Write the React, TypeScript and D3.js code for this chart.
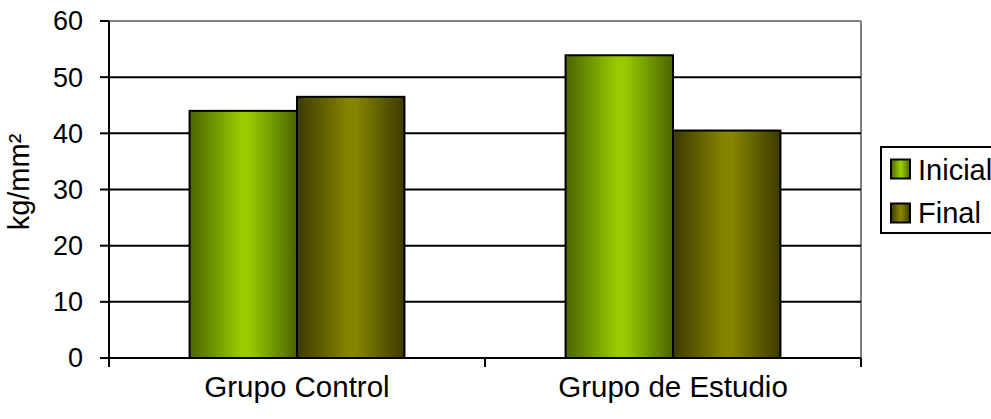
import React from "react";
import * as d3 from "d3";

const categories = ["Grupo Control", "Grupo de Estudio"];
const seriesNames = ["Inicial", "Final"];
const inicialValues = [44.0, 53.9];
const finalValues = [46.5, 40.5];
const yTicks = [0, 10, 20, 30, 40, 50, 60];
const yLabel = "kg/mm²";

const W = 991, H = 419;
const left = 109, right = 861, top = 21, bottom = 358;
const FONT = "Arial, 'Liberation Sans', sans-serif";
const FS = 27;

const colors = [
  { light: "#99cc00", dark: "#4a6400" },
  { light: "#858500", dark: "#3c3a00" },
];

export default function App() {
  const x = d3.scaleBand<string>().domain(categories).range([left, right]).paddingInner(0).paddingOuter(0);
  const y = d3.scaleLinear().domain([0, 60]).range([bottom, top]);
  const bw = x.bandwidth();
  const barW = bw / 3.5;
  const series = [inicialValues, finalValues];
  return (
    <svg width={W} height={H} style={{ display: "block", position: "absolute", left: 0, top: 0 }} fontFamily={FONT}>
      <defs>
        {colors.map((c, i) => (
          <linearGradient key={i} id={`g${i}`} x1="0" x2="1" y1="0" y2="0">
            <stop offset="0" stopColor={c.dark} />
            <stop offset="0.48" stopColor={c.light} />
            <stop offset="0.55" stopColor={c.light} />
            <stop offset="1" stopColor={c.dark} />
          </linearGradient>
        ))}
      </defs>
      <rect x={0} y={0} width={W} height={H} fill="#fff" />
      <line x1={left} x2={right} y1={top} y2={top} stroke="#808080" strokeWidth={2} />
      <line x1={right} x2={right} y1={top} y2={bottom} stroke="#808080" strokeWidth={2} />
      {yTicks.filter(t => t > 0 && t < 60).map(t => (
        <line key={t} x1={left} x2={right} y1={y(t)} y2={y(t)} stroke="#000" strokeWidth={2} />
      ))}
      {series.map((vals, si) =>
        categories.map((c, ci) => {
          const cx = (x(c) as number) + bw / 2;
          const x0 = cx - barW + si * barW;
          return (
            <rect key={`${si}-${ci}`} x={x0} y={y(vals[ci])} width={barW} height={bottom - y(vals[ci])}
              fill={`url(#g${si})`} stroke="#000" strokeWidth={2} />
          );
        })
      )}
      <line x1={left} x2={left} y1={top} y2={367} stroke="#000" strokeWidth={2} />
      <line x1={left - 9} x2={right} y1={bottom} y2={bottom} stroke="#000" strokeWidth={2} />
      {yTicks.map(t => (
        <g key={t}>
          <line x1={left - 9} x2={left} y1={y(t)} y2={y(t)} stroke="#000" strokeWidth={2} />
          <text x={83} y={y(t)} dy="0.35em" textAnchor="end" fontSize={FS} fill="#000">{t}</text>
        </g>
      ))}
      {[...categories.map(c => x(c) as number), right].map((v, i) => (
        <line key={i} x1={v} x2={v} y1={bottom} y2={367} stroke="#000" strokeWidth={2} />
      ))}
      {categories.map(c => (
        <text key={c} x={(x(c) as number) + bw / 2} y={397} textAnchor="middle" fontSize={29.5} fill="#000">{c}</text>
      ))}
      <text transform={`translate(29,${182}) rotate(-90)`} textAnchor="middle" fontSize={29} fill="#000">{yLabel}</text>
      <rect x={881} y={147} width={130} height={86} fill="#fff" stroke="#000" strokeWidth={2} />
      {seriesNames.map((s, i) => (
        <g key={s}>
          <rect x={891} y={159.5 + i * 44} width={19} height={19} fill={`url(#g${i})`} stroke="#000" strokeWidth={2} />
          <text x={918} y={180 + i * 43} fontSize={29} fill="#000">{s}</text>
        </g>
      ))}
    </svg>
  );
}
